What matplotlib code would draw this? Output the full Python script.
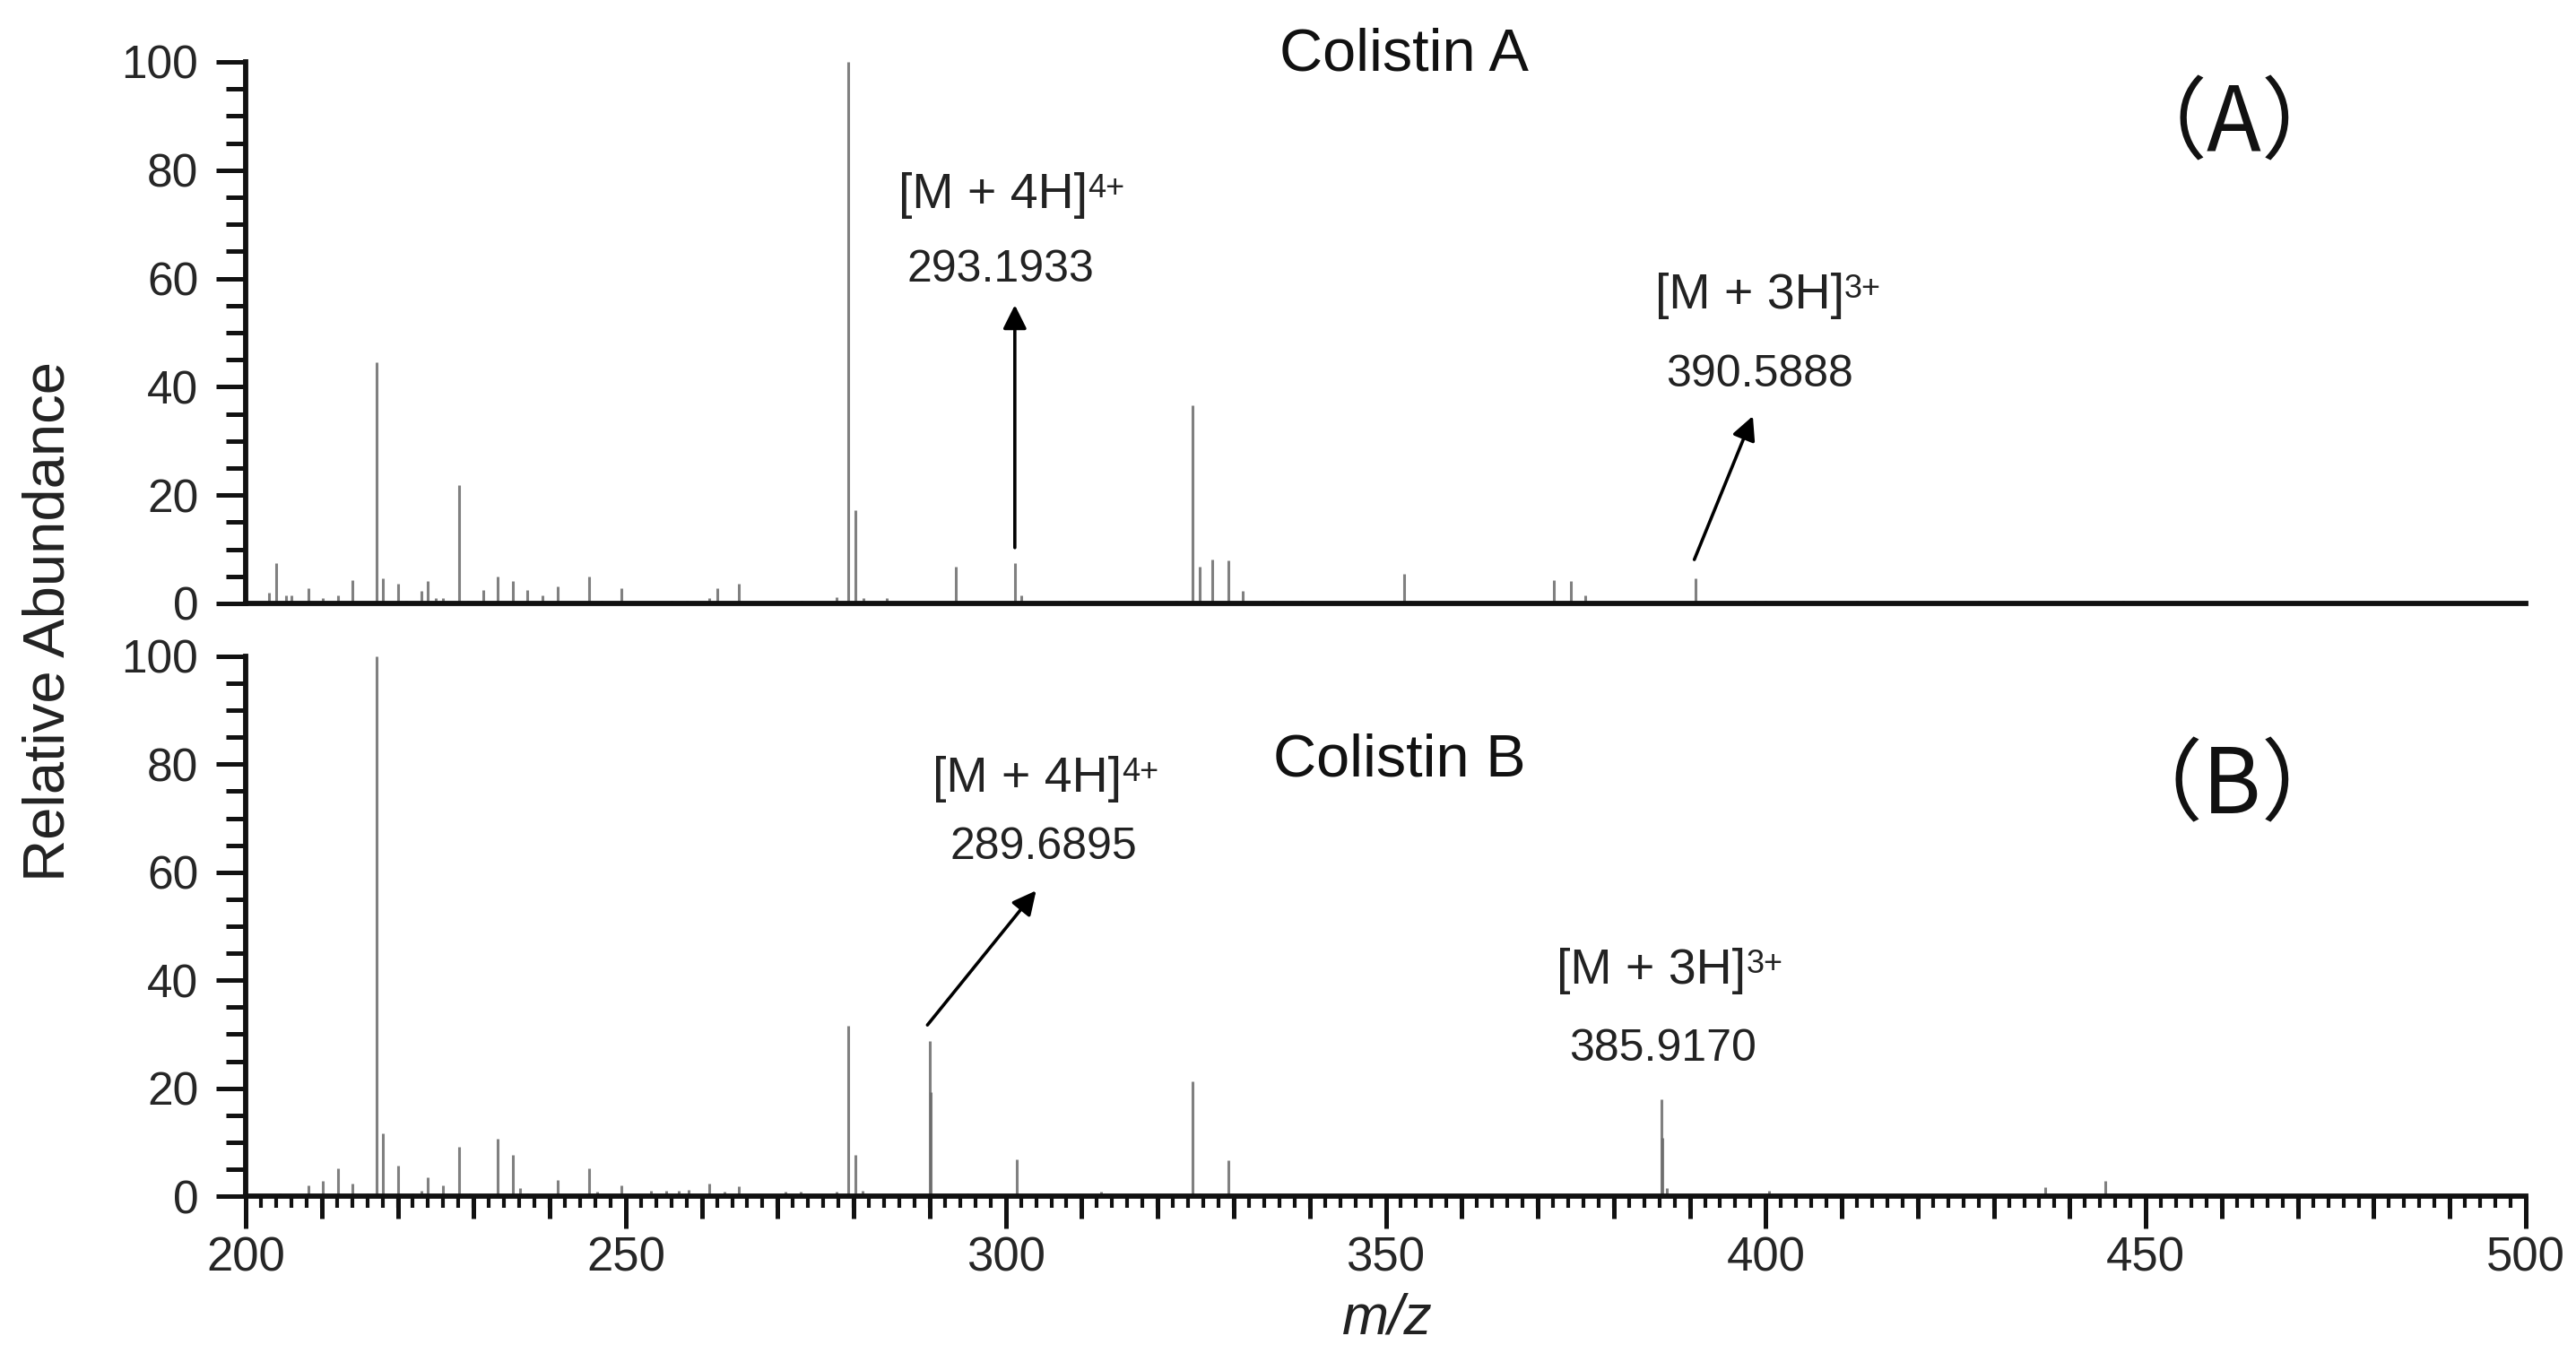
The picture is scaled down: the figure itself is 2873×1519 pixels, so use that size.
import matplotlib
matplotlib.use("Agg")
import matplotlib.pyplot as plt
from matplotlib.ticker import MultipleLocator, FixedLocator

plt.rcParams['font.family'] = ['Liberation Sans', 'DejaVu Sans']

# ---------------- data ----------------
top_mz = [203.1, 204.0, 205.3, 206.0, 208.3, 210.2, 212.1, 214.0, 217.2, 218.1,
          220.0, 221.1, 223.1, 224.0, 225.0, 226.0, 228.1, 229.2, 231.3, 233.2,
          235.2, 237.1, 239.1, 241.1, 245.2, 246.8, 249.4, 256.0, 258.0, 261.0,
          262.1, 264.9, 270.0, 273.2, 277.7, 279.3, 280.2, 281.3, 284.4, 293.4,
          301.2, 302.1, 308.3, 322.4, 324.6, 325.5, 327.2, 329.3, 331.2, 335.2,
          339.0, 352.4, 353.3, 372.1, 374.4, 376.3, 390.7, 398.5, 400.0, 412.0,
          428.0, 447.0]
top_int = [2.0, 7.4, 1.5, 1.5, 2.8, 1.0, 1.5, 4.3, 44.6, 4.7,
           3.6, 0.5, 2.4, 4.2, 1.0, 1.0, 21.8, 0.5, 2.5, 4.9,
           4.2, 2.5, 1.5, 3.2, 4.9, 0.5, 2.8, 0.5, 0.5, 1.0,
           2.8, 3.7, 0.5, 0.5, 1.2, 100.0, 17.2, 1.0, 1.0, 6.8,
           7.4, 1.5, 0.5, 0.5, 36.6, 6.8, 8.1, 8.0, 2.3, 0.5,
           0.5, 5.5, 0.5, 4.3, 4.1, 1.5, 4.7, 0.5, 0.5, 0.5,
           0.5, 0.5]

bot_mz = [204.5, 208.3, 210.2, 212.1, 214.0, 216.0, 217.2, 218.1, 220.0, 222.0,
          223.1, 224.0, 226.0, 228.1, 229.5, 233.2, 235.2, 236.1, 237.0, 241.1,
          245.2, 246.3, 249.4, 253.3, 255.3, 257.0, 258.3, 261.0, 263.0, 264.9,
          271.0, 273.0, 277.8, 279.3, 280.2, 281.2, 290.0, 290.1, 295.0, 301.4,
          312.5, 324.6, 325.5, 329.3, 386.3, 386.4, 387.0, 400.4, 436.8, 444.7]
bot_int = [0.5, 2.0, 2.8, 5.1, 2.4, 0.5, 100.0, 11.7, 5.7, 0.5,
           1.0, 3.5, 2.0, 9.2, 0.5, 10.7, 7.7, 1.5, 0.5, 3.0,
           5.1, 0.8, 2.0, 1.0, 1.0, 1.0, 1.2, 2.4, 0.8, 1.8,
           0.8, 0.8, 0.8, 31.5, 7.7, 1.0, 28.8, 19.3, 0.5, 6.8,
           0.8, 21.3, 0.5, 6.6, 18.0, 10.8, 1.5, 1.0, 1.7, 2.8]

panel_titles = ["Colistin A", "Colistin B"]
panel_tags = ["（A）", "（B）"]

# annotations: (ion, charge, m/z value, arrow start, arrow tip, ion label pos, value pos)
ann_top = [
    ("[M + 4H]", "4+", "293.1933", (301.2, 10.3), (301.2, 55.1), (285.9, 73.0), (299.3, 59.4)),
    ("[M + 3H]", "3+", "390.5888", (390.6, 8.1), (398.3, 34.6), (385.4, 54.5), (399.2, 40.0)),
]
ann_bot = [
    ("[M + 4H]", "4+", "289.6895", (289.7, 31.7), (304.0, 56.6), (290.4, 74.9), (305.0, 62.5)),
    ("[M + 3H]", "3+", "385.9170", None, None, (372.5, 39.4), (386.5, 25.1)),
]

W, H = 2873, 1519
fig = plt.figure(figsize=(W / 100, H / 100), dpi=100)

left = 274 / W
width = (2817 - 274) / W
ax1 = fig.add_axes([left, 1 - 673 / H, width, (673 - 69) / H])
ax2 = fig.add_axes([left, 1 - 1334 / H, width, (1334 - 732) / H])

peak_color = '#6a6a6a'
spine_lw = 4.2
tick_color = '#111111'
label_color = '#262626'

for ax, mz, inten in ((ax1, top_mz, top_int), (ax2, bot_mz, bot_int)):
    ax.vlines(mz, 0, inten, colors=peak_color, linewidth=2.2, alpha=0.85)
    ax.set_xlim(200, 500)
    ax.set_ylim(0, 100)
    for s in ('top', 'right'):
        ax.spines[s].set_visible(False)
    for s in ('left', 'bottom'):
        ax.spines[s].set_linewidth(spine_lw)
        ax.spines[s].set_color(tick_color)
    ax.spines['bottom'].set_zorder(5)
    ax.yaxis.set_major_locator(MultipleLocator(20))
    ax.yaxis.set_minor_locator(MultipleLocator(5))
    ax.tick_params(axis='y', which='major', length=24, width=3.6, direction='out',
                   labelsize=37, pad=14, colors=tick_color, labelcolor=label_color)
    ax.tick_params(axis='y', which='minor', length=16, width=3.6, direction='out',
                   colors=tick_color)
    ax.patch.set_visible(False)

# top panel: no x ticks
ax1.tick_params(axis='x', which='both', bottom=False, labelbottom=False)

# bottom panel x ticks: major 50 (labelled), minor 2, medium 10 on a secondary axis
ax2.xaxis.set_major_locator(MultipleLocator(50))
ax2.xaxis.set_minor_locator(MultipleLocator(2))
ax2.tick_params(axis='x', which='major', length=26, width=3.6, direction='out',
                labelsize=38, pad=6, colors=tick_color, labelcolor=label_color)
ax2.tick_params(axis='x', which='minor', length=9.5, width=3.0, direction='out',
                colors=tick_color)
sec = ax2.secondary_xaxis('bottom')
sec.xaxis.set_major_locator(FixedLocator([v for v in range(210, 500, 10) if v % 50 != 0]))
sec.tick_params(axis='x', which='major', length=18, width=3.6, direction='out',
                labelbottom=False, colors=tick_color)
sec.tick_params(axis='x', which='minor', bottom=False)
sec.spines['bottom'].set_visible(False)

for ax, title, tag, anns, title_xy, tag_xy in (
        (ax1, panel_titles[0], panel_tags[0], ann_top, (352.4, 101.2), (461.6, 88.1)),
        (ax2, panel_titles[1], panel_tags[1], ann_bot, (351.8, 80.7), (461.4, 75.7))):
    ax.text(title_xy[0], title_xy[1], title, fontsize=48, ha='center', va='center',
            color='#111111', clip_on=False)
    ax.text(tag_xy[0], tag_xy[1], tag, fontsize=72, ha='center', va='center',
            family=['Noto Sans CJK SC', 'DejaVu Sans'], fontweight=300,
            color='#111111', clip_on=False)
    for ion, charge, val, start, tip, lab_xy, val_xy in anns:
        t = ax.text(lab_xy[0], lab_xy[1], ion, fontsize=40, ha='left', va='baseline',
                    color='#222222', clip_on=False)
        ax.annotate(charge, xy=(1.0, 1.0), xycoords=t, xytext=(0, -1),
                    textcoords='offset points', fontsize=26, ha='left', va='top',
                    color='#222222', annotation_clip=False)
        ax.text(val_xy[0], val_xy[1], val, fontsize=36, ha='center', va='baseline',
                color='#222222', clip_on=False)
        if start is not None:
            ax.annotate('', xy=tip, xytext=start,
                        arrowprops=dict(arrowstyle='-|>', lw=2.6, color='black',
                                        mutation_scale=40, shrinkA=0, shrinkB=0))

fig.text(55 / W, 1 - 693 / H, "Relative Abundance", rotation=90, fontsize=47,
         ha='center', va='center', color='#222222')
fig.text(1547 / W, 1 - 1471 / H, "m/z", fontsize=45, style='italic',
         ha='center', va='center', color='#222222')

fig.savefig("out.png", dpi=100)
